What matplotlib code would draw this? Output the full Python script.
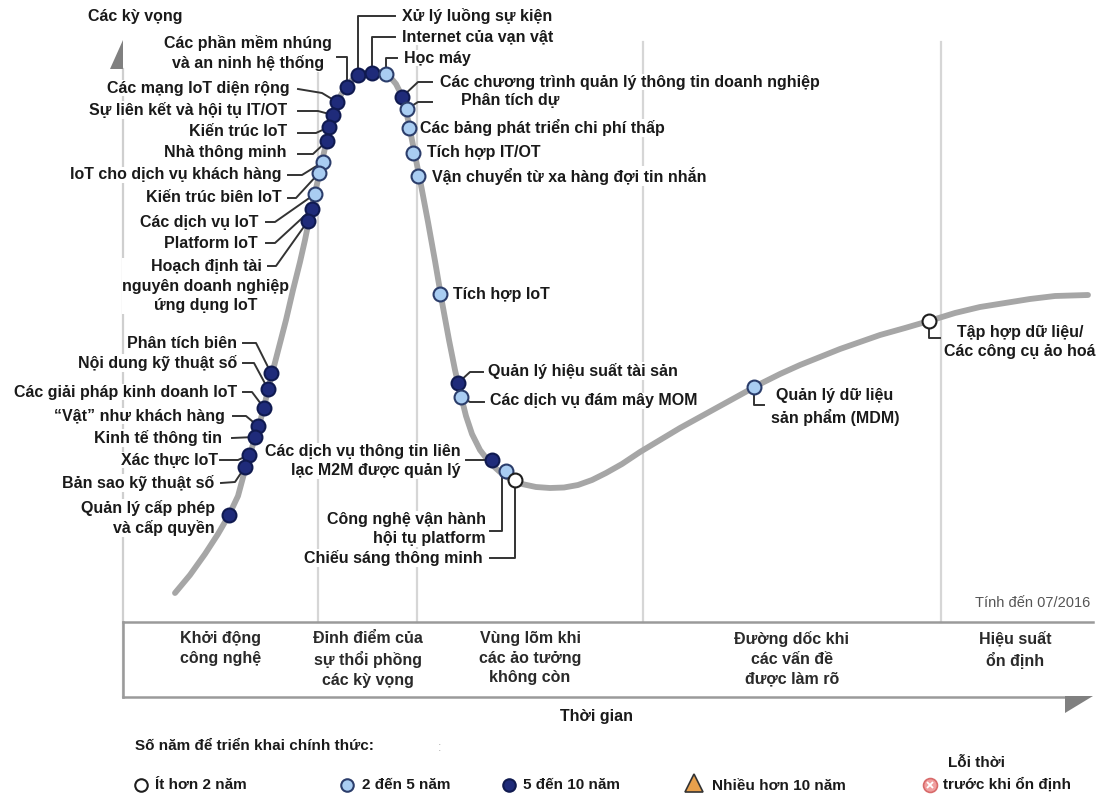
import matplotlib
matplotlib.use('Agg')
import matplotlib.pyplot as plt
from matplotlib.patches import Polygon

plt.rcParams['font.family'] = ['Liberation Sans', 'DejaVu Sans']

# hype curve (x = thời gian, y = kỳ vọng, screen units)
curve_x = [175, 190, 205, 218, 229, 238, 245, 250, 255, 260, 264, 268, 272, 279, 286,
           293, 300, 305, 309, 313, 317, 321, 325, 329, 333, 337, 342, 347, 352, 358,
           365, 372, 379, 386, 391, 396, 400, 403, 406, 409, 412, 416, 421, 428, 435,
           442, 449, 455, 461, 466, 472, 480, 490, 500, 510, 522, 536, 550, 564, 578,
           592, 606, 622, 640, 660, 680, 700, 720, 740, 760, 780, 800, 820, 840, 860,
           880, 905, 929, 955, 980, 1005, 1030, 1055, 1088]
curve_y = [593, 575, 554, 534, 515, 496, 470, 455, 437, 422, 407, 390, 374, 347, 320,
           290, 262, 240, 220, 202, 184, 166, 148, 130, 115, 102, 93, 86, 80, 76,
           73, 72, 72, 74, 78, 84, 92, 101, 111, 124, 140, 160, 185, 222, 261,
           302, 340, 370, 396, 416, 434, 450, 463, 472, 479, 484, 487, 488, 487.5, 485,
           480, 473, 464, 452, 440, 428, 417, 406, 395, 384, 374, 365, 357, 349, 342,
           335, 328, 321, 313, 307, 303, 299, 296, 295]

# technologies: name, position on the curve, years to mainstream (0: <2, 1: 2-5, 2: 5-10)
tech_names = [
    'Các phần mềm nhúng và an ninh hệ thống', 'Các mạng IoT diện rộng',
    'Sự liên kết và hội tụ IT/OT', 'Kiến trúc IoT', 'Nhà thông minh',
    'IoT cho dịch vụ khách hàng', 'Kiến trúc biên IoT', 'Các dịch vụ IoT',
    'Platform IoT', 'Hoạch định tài nguyên doanh nghiệp ứng dụng IoT',
    'Phân tích biên', 'Nội dung kỹ thuật số', 'Các giải pháp kinh doanh IoT',
    '“Vật” như khách hàng', 'Kinh tế thông tin', 'Xác thực IoT',
    'Bản sao kỹ thuật số', 'Quản lý cấp phép và cấp quyền',
    'Xử lý luồng sự kiện', 'Internet của vạn vật', 'Học máy',
    'Các chương trình quản lý thông tin doanh nghiệp', 'Phân tích dự',
    'Các bảng phát triển chi phí thấp', 'Tích hợp IT/OT',
    'Vận chuyển từ xa hàng đợi tin nhắn', 'Tích hợp IoT',
    'Quản lý hiệu suất tài sản', 'Các dịch vụ đám mây MOM',
    'Các dịch vụ thông tin liên lạc M2M được quản lý',
    'Công nghệ vận hành hội tụ platform', 'Chiếu sáng thông minh',
    'Quản lý dữ liệu sản phẩm (MDM)', 'Tập hợp dữ liệu/Các công cụ ảo hoá',
]
tech_x = [347, 337, 333, 329, 327, 323, 319, 315, 312, 308,
          271, 268, 264, 258, 255, 249, 245, 229,
          358, 372, 386, 402, 407, 409, 413, 418, 440,
          458, 461, 492, 506, 515, 754, 929]
tech_y = [87, 102, 115, 127, 141, 162, 173, 194, 209, 221,
          373, 389, 408, 426, 437, 455, 467, 515,
          75, 73, 74, 97, 109, 128, 153, 176, 294,
          383, 397, 460, 471, 480, 387, 321]
tech_years = [2, 2, 2, 2, 2, 1, 1, 1, 2, 2,
              2, 2, 2, 2, 2, 2, 2, 2,
              2, 2, 1, 2, 1, 1, 1, 1, 1,
              2, 1, 2, 1, 0, 1, 0]

phase_names = ['Khởi động\ncông nghệ', 'Đỉnh điểm của\nsự thổi phồng\ncác kỳ vọng',
               'Vùng lõm khi\ncác ảo tưởng\nkhông còn', 'Đường dốc khi\ncác vấn đề\nđược làm rõ',
               'Hiệu suất\nổn định']
phase_edges = [123, 318, 417, 643, 941, 1090]

legend_labels = ['Ít hơn 2 năm', '2 đến 5 năm', '5 đến 10 năm', 'Nhiều hơn 10 năm']

DOT_STYLE = {
    0: dict(mfc='white', mec='#1e1e1e'),
    1: dict(mfc='#a9cdf2', mec='#2b3d6b'),
    2: dict(mfc='#1f2b7a', mec='#101a50'),
}
TXT = '#1a1a1a'
LEAD = '#333333'
LSP = 1.38

# label layout: (index, text x, text y, alignment, leader vertices)
callouts = [
    (0, 248, 53, 'center', [(337, 57), (347, 57), (347, 87)]),
    (1, 290, 88, 'right', [(298, 89), (322, 93), (337, 102)]),
    (2, 287, 110, 'right', [(298, 111), (318, 111), (333, 115)]),
    (3, 287, 132, 'right', [(298, 133), (316, 133), (329, 127)]),
    (4, 287, 153, 'right', [(298, 154), (313, 154), (327, 141)]),
    (5, 281, 175, 'right', [(288, 175), (302, 175), (323, 162)]),
    (6, 282, 198, 'right', [(288, 198), (296, 198), (319, 173)]),
    (7, 258, 222, 'right', [(266, 222), (275, 222), (315, 194)]),
    (8, 258, 243, 'right', [(266, 243), (275, 243), (312, 209)]),
    (9, 206, 286, 'center', [(268, 266), (276, 266), (308, 221)]),
    (10, 237, 343, 'right', [(243, 343), (256, 343), (271, 373)]),
    (11, 237, 363, 'right', [(243, 363), (254, 363), (268, 389)]),
    (12, 237, 392, 'right', [(243, 392), (252, 392), (264, 408)]),
    (13, 225, 416, 'right', [(233, 416), (246, 416), (258, 426)]),
    (14, 222, 438, 'right', [(232, 438), (255, 437)]),
    (15, 218, 460, 'right', [(220, 460), (238, 460), (249, 455)]),
    (16, 214, 483, 'right', [(221, 483), (235, 482), (245, 467)]),
    (17, 215, 518, 'right', None),
    (18, 402, 16, 'left', [(395, 16), (358, 16), (358, 75)]),
    (19, 402, 37, 'left', [(395, 37), (372, 37), (372, 73)]),
    (20, 404, 58, 'left', [(397, 58), (386, 58), (386, 74)]),
    (21, 440, 82, 'left', [(432, 82), (418, 82), (402, 97)]),
    (22, 461, 101, 'left', [(432, 102), (418, 102), (407, 109)]),
    (23, 420, 128, 'left', None),
    (24, 427, 153, 'left', None),
    (25, 432, 176, 'left', None),
    (26, 453, 294, 'left', None),
    (27, 488, 371, 'left', [(483, 372), (470, 372), (458, 383)]),
    (28, 490, 401, 'left', [(484, 402), (470, 402), (461, 397)]),
    (29, 461, 461, 'right', [(466, 460), (492, 460)]),
    (30, 486, 529, 'right', [(490, 531), (502, 531), (502, 477), (506, 471)]),
    (31, 483, 558, 'right', [(490, 558), (515, 558), (515, 480)]),
    (32, 835, 407, 'center', [(754, 387), (754, 405), (764, 405)]),
    (33, 1020, 342, 'center', [(929, 321), (929, 338), (940, 338)]),
]
wrapped = {0: 'Các phần mềm nhúng\nvà an ninh hệ thống',
           9: 'Hoạch định tài\nnguyên doanh nghiệp\nứng dụng IoT',
           17: 'Quản lý cấp phép\nvà cấp quyền',
           29: 'Các dịch vụ thông tin liên\nlạc M2M được quản lý',
           30: 'Công nghệ vận hành\nhội tụ platform',
           32: 'Quản lý dữ liệu\nsản phẩm (MDM)',
           33: 'Tập hợp dữ liệu/\nCác công cụ ảo hoá'}

fig = plt.figure(figsize=(11.05, 7.98), dpi=100)
ax = fig.add_axes([0, 0, 1, 1])
ax.set_xlim(0, 1105)
ax.set_ylim(798, 0)
ax.axis('off')

# phase separators and left axis
for xv in phase_edges[1:-1]:
    ax.plot([xv, xv], [42, 622], color='#d6d6d6', lw=1.6, zorder=1)
ax.plot([123, 123], [69, 697], color='#cfcfcf', lw=1.6, zorder=1)
ax.plot([123, 123], [622, 697], color='#9a9a9a', lw=1.8, zorder=1)
ax.add_patch(Polygon([(110, 69), (123, 40), (123, 69)], closed=True, fc='#808080', ec='none'))

# phase band
ax.plot([123, 1093], [622, 622], color='#9a9a9a', lw=1.8, zorder=1)
ax.plot([123, 1065], [697, 697], color='#9a9a9a', lw=1.8, zorder=1)
ax.add_patch(Polygon([(1065, 696), (1093, 696), (1065, 713)], closed=True, fc='#808080', ec='none'))
for i, name in enumerate(phase_names):
    cx = (phase_edges[i] + phase_edges[i + 1]) / 2
    ax.text(cx, 631, name, ha='center', va='top', fontsize=11.5, fontweight='bold',
            color='#2a2a2a', linespacing=LSP)

ax.text(88, 17, 'Các kỳ vọng', ha='left', va='center', fontsize=11.5, fontweight='bold', color=TXT)
ax.text(597, 717, 'Thời gian', ha='center', va='center', fontsize=11.5, fontweight='bold', color=TXT)
ax.text(1090, 603, 'Tính đến 07/2016', ha='right', va='center', fontsize=10.5, color='#555555')

# the curve
ax.plot(curve_x, curve_y, color='#a6a6a6', lw=4.2, solid_capstyle='round',
        solid_joinstyle='round', zorder=3)

# labels and leaders
for idx, tx, ty, ha, lead in callouts:
    label = wrapped.get(idx, tech_names[idx])
    ax.text(tx, ty, label, ha=ha, va='center', fontsize=11.5, fontweight='bold', color=TXT,
            linespacing=LSP, zorder=2,
            bbox=dict(fc='white', ec='none', pad=0.5))
    if lead:
        ax.plot([p[0] for p in lead], [p[1] for p in lead], color=LEAD, lw=1.4, zorder=3)

for x, y, yr in zip(tech_x, tech_y, tech_years):
    ax.plot(x, y, 'o', ms=10, mew=1.5, zorder=5, **DOT_STYLE[yr])

# legend
ax.text(135, 746, 'Số năm để triển khai chính thức:', ha='left', va='center',
        fontsize=11, fontweight='bold', color=TXT)
ax.text(440, 748, ':', ha='center', va='center', fontsize=9, color='#b0b0b0')
leg_x = [141, 347, 509]
leg_tx = [155, 362, 523]
for i in range(3):
    ax.plot(leg_x[i], 785, 'o', ms=9, mew=1.5, **DOT_STYLE[i])
    ax.text(leg_tx[i], 785, legend_labels[i], ha='left', va='center', fontsize=11,
            fontweight='bold', color=TXT)
ax.plot(694, 783, '^', ms=13, mfc='#e8a04c', mec='#333333', mew=1.2)
ax.text(712, 786, legend_labels[3], ha='left', va='center', fontsize=11,
        fontweight='bold', color=TXT)
ax.plot(930, 785, 'o', ms=10, mfc='#f0a0a0', mec='#d86a6a', mew=1.2)
ax.plot(930, 785, 'x', ms=5, mec='white', mew=1.3)
ax.text(948, 763, 'Lỗi thời', ha='left', va='center', fontsize=11, fontweight='bold', color=TXT)
ax.text(943, 785, 'trước khi ổn định', ha='left', va='center', fontsize=11,
        fontweight='bold', color=TXT)

fig.savefig('out.png', dpi=100)
